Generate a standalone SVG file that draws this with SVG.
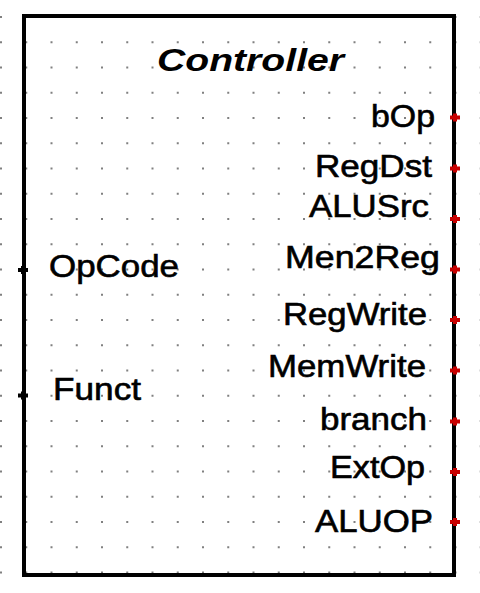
<svg xmlns="http://www.w3.org/2000/svg" width="480" height="593" viewBox="0 0 480 593">
<style>
.grid{stroke:#808080;stroke-width:2;stroke-dasharray:2 23.25}
.lbl{font-family:"Liberation Sans",Arial,sans-serif;font-size:31px;fill:#000;stroke:#000;stroke-width:0.6}
.title{font-family:"Liberation Sans",Arial,sans-serif;font-size:32px;font-weight:bold;font-style:italic;fill:#000}
.box{fill:none;stroke:#000;stroke-width:4}
.out{fill:#c80000}
.in{fill:#000}
</style>
<defs>
<path id="pin" d="M-5,-2h3v-2h4v2h3v4h-3v2h-4v-2h-3z"/>
</defs>
<rect width="480" height="593" fill="#fff"/>
<g id="grid">
<line class="grid" x1="0" y1="17" x2="480" y2="17"/>
<line class="grid" x1="0" y1="42.25" x2="480" y2="42.25"/>
<line class="grid" x1="0" y1="67.5" x2="480" y2="67.5"/>
<line class="grid" x1="0" y1="92.75" x2="480" y2="92.75"/>
<line class="grid" x1="0" y1="118" x2="480" y2="118"/>
<line class="grid" x1="0" y1="143.25" x2="480" y2="143.25"/>
<line class="grid" x1="0" y1="168.5" x2="480" y2="168.5"/>
<line class="grid" x1="0" y1="193.75" x2="480" y2="193.75"/>
<line class="grid" x1="0" y1="219" x2="480" y2="219"/>
<line class="grid" x1="0" y1="244.25" x2="480" y2="244.25"/>
<line class="grid" x1="0" y1="269.5" x2="480" y2="269.5"/>
<line class="grid" x1="0" y1="294.75" x2="480" y2="294.75"/>
<line class="grid" x1="0" y1="320" x2="480" y2="320"/>
<line class="grid" x1="0" y1="345.25" x2="480" y2="345.25"/>
<line class="grid" x1="0" y1="370.5" x2="480" y2="370.5"/>
<line class="grid" x1="0" y1="395.75" x2="480" y2="395.75"/>
<line class="grid" x1="0" y1="421" x2="480" y2="421"/>
<line class="grid" x1="0" y1="446.25" x2="480" y2="446.25"/>
<line class="grid" x1="0" y1="471.5" x2="480" y2="471.5"/>
<line class="grid" x1="0" y1="496.75" x2="480" y2="496.75"/>
<line class="grid" x1="0" y1="522" x2="480" y2="522"/>
<line class="grid" x1="0" y1="547.25" x2="480" y2="547.25"/>
<line class="grid" x1="0" y1="572.5" x2="480" y2="572.5"/>
</g>
<g id="controller">
<rect class="box" x="24" y="16" width="430" height="559"/>
<text class="title" x="157" y="71" textLength="187" lengthAdjust="spacingAndGlyphs">Controller</text>
<text class="lbl" x="371" y="127" textLength="64" lengthAdjust="spacingAndGlyphs">bOp</text>
<text class="lbl" x="315" y="177" textLength="117" lengthAdjust="spacingAndGlyphs">RegDst</text>
<text class="lbl" x="309" y="217" textLength="120" lengthAdjust="spacingAndGlyphs">ALUSrc</text>
<text class="lbl" x="285" y="268" textLength="155" lengthAdjust="spacingAndGlyphs">Men2Reg</text>
<text class="lbl" x="283" y="325" textLength="144" lengthAdjust="spacingAndGlyphs">RegWrite</text>
<text class="lbl" x="268" y="377" textLength="158" lengthAdjust="spacingAndGlyphs">MemWrite</text>
<text class="lbl" x="320" y="430" textLength="107" lengthAdjust="spacingAndGlyphs">branch</text>
<text class="lbl" x="330" y="478" textLength="95" lengthAdjust="spacingAndGlyphs">ExtOp</text>
<text class="lbl" x="315" y="532" textLength="118" lengthAdjust="spacingAndGlyphs">ALUOP</text>
<text class="lbl" x="49" y="277" textLength="130" lengthAdjust="spacingAndGlyphs">OpCode</text>
<text class="lbl" x="53" y="400" textLength="88" lengthAdjust="spacingAndGlyphs">Funct</text>
<g id="pins">
<use href="#pin" class="in" x="23" y="270"/>
<use href="#pin" class="in" x="23" y="395.5"/>
<use href="#pin" class="out" x="455" y="117.5"/>
<use href="#pin" class="out" x="455" y="168.5"/>
<use href="#pin" class="out" x="455" y="219"/>
<use href="#pin" class="out" x="455" y="269.5"/>
<use href="#pin" class="out" x="455" y="320"/>
<use href="#pin" class="out" x="455" y="370.5"/>
<use href="#pin" class="out" x="455" y="421.5"/>
<use href="#pin" class="out" x="455" y="472"/>
<use href="#pin" class="out" x="455" y="522"/>
</g>
</g>
<g id="connectors"/>
</svg>
